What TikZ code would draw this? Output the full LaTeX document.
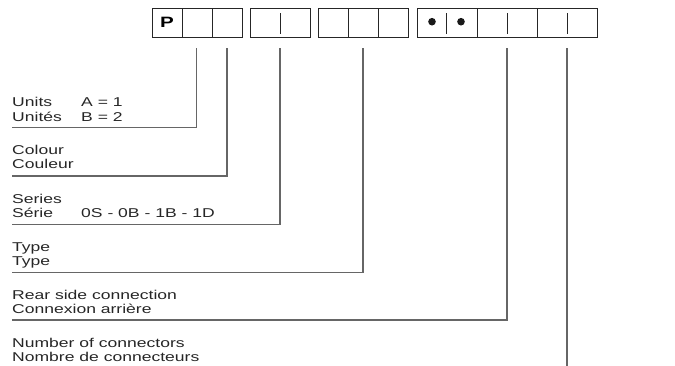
\documentclass[tikz,border=0pt]{standalone}
\usepackage{fontspec}
\newfontfamily\legfont[FakeStretch=1.37]{Liberation Sans}
\begin{document}
\begin{tikzpicture}[x=1pt,y=-1pt,
  cell/.style={draw=black!85,line width=1pt,minimum width=30pt,minimum height=29pt,inner sep=0pt},
  widecell/.style={cell,minimum width=60pt},
  lead/.style={draw=black!60,line width=1.1pt},
  tick/.style={draw=black!85,line width=1pt},
  lbl/.style={anchor=base west,inner sep=0pt,text=black!85,font=\legfont\fontsize{12.8}{14}\selectfont}]
\useasboundingbox (0,0) rectangle (675,365);
\node[cell](c1) at (167,22.8){\legfont\fontsize{15}{15}\selectfont\bfseries P};
\node[cell](c2) at (197,22.8){};
\node[cell](c3) at (227,22.8){};
\node[widecell](c4) at (280,22.8){};
\node[cell](c5) at (333,22.8){};
\node[cell](c6) at (363,22.8){};
\node[cell](c7) at (393,22.8){};
\node[widecell](c8) at (447,22.8){};
\node[widecell](c9) at (507,22.8){};
\node[widecell](c10) at (567,22.8){};
\fill[black!90](432,21.7) circle (3.8pt);
\fill[black!90](461,21.7) circle (3.8pt);
\draw[tick](280,13.3) -- (280,34.3);
\draw[tick](446.5,13.3) -- (446.5,34.3);
\draw[tick](507,13.3) -- (507,34.3);
\draw[tick](567,13.3) -- (567,34.3);
\coordinate(t1) at (196.5,48);
\coordinate(t2) at (227,48);
\coordinate(t3) at (280,48);
\coordinate(t4) at (363,48);
\coordinate(t5) at (507,48);
\coordinate(t6) at (567,48);
\coordinate(e1) at (12,127.7);
\coordinate(e2) at (12,176);
\coordinate(e3) at (12,224.3);
\coordinate(e4) at (12,272.3);
\coordinate(e5) at (12,320);
\coordinate(e6) at (567,366);
\draw[lead](t1) |- (e1);
\draw[lead](t2) |- (e2);
\draw[lead](t3) |- (e3);
\draw[lead](t4) |- (e4);
\draw[lead](t5) |- (e5);
\draw[lead](t6) -- (e6);
\node[lbl](units) at (12,106.7){Units};
\node[lbl](unites) at (12,121){Unités};
\node[lbl](ua) at (81,106.7){A = 1};
\node[lbl](ub) at (81,121){B = 2};
\node[lbl](colour) at (12,154.5){Colour};
\node[lbl](couleur) at (12,168.8){Couleur};
\node[lbl](series) at (12,203){Series};
\node[lbl](serie) at (12,217.3){Série};
\node[lbl](sval) at (81,217.3){0S - 0B - 1B - 1D};
\node[lbl](type) at (12,251.3){Type};
\node[lbl](typefr) at (12,265.6){Type};
\node[lbl](rear) at (12,299){Rear side connection};
\node[lbl](rearfr) at (12,313.3){Connexion arrière};
\node[lbl](number) at (12,347){Number of connectors};
\node[lbl](numberfr) at (12,361.3){Nombre de connecteurs};
\end{tikzpicture}
\end{document}
